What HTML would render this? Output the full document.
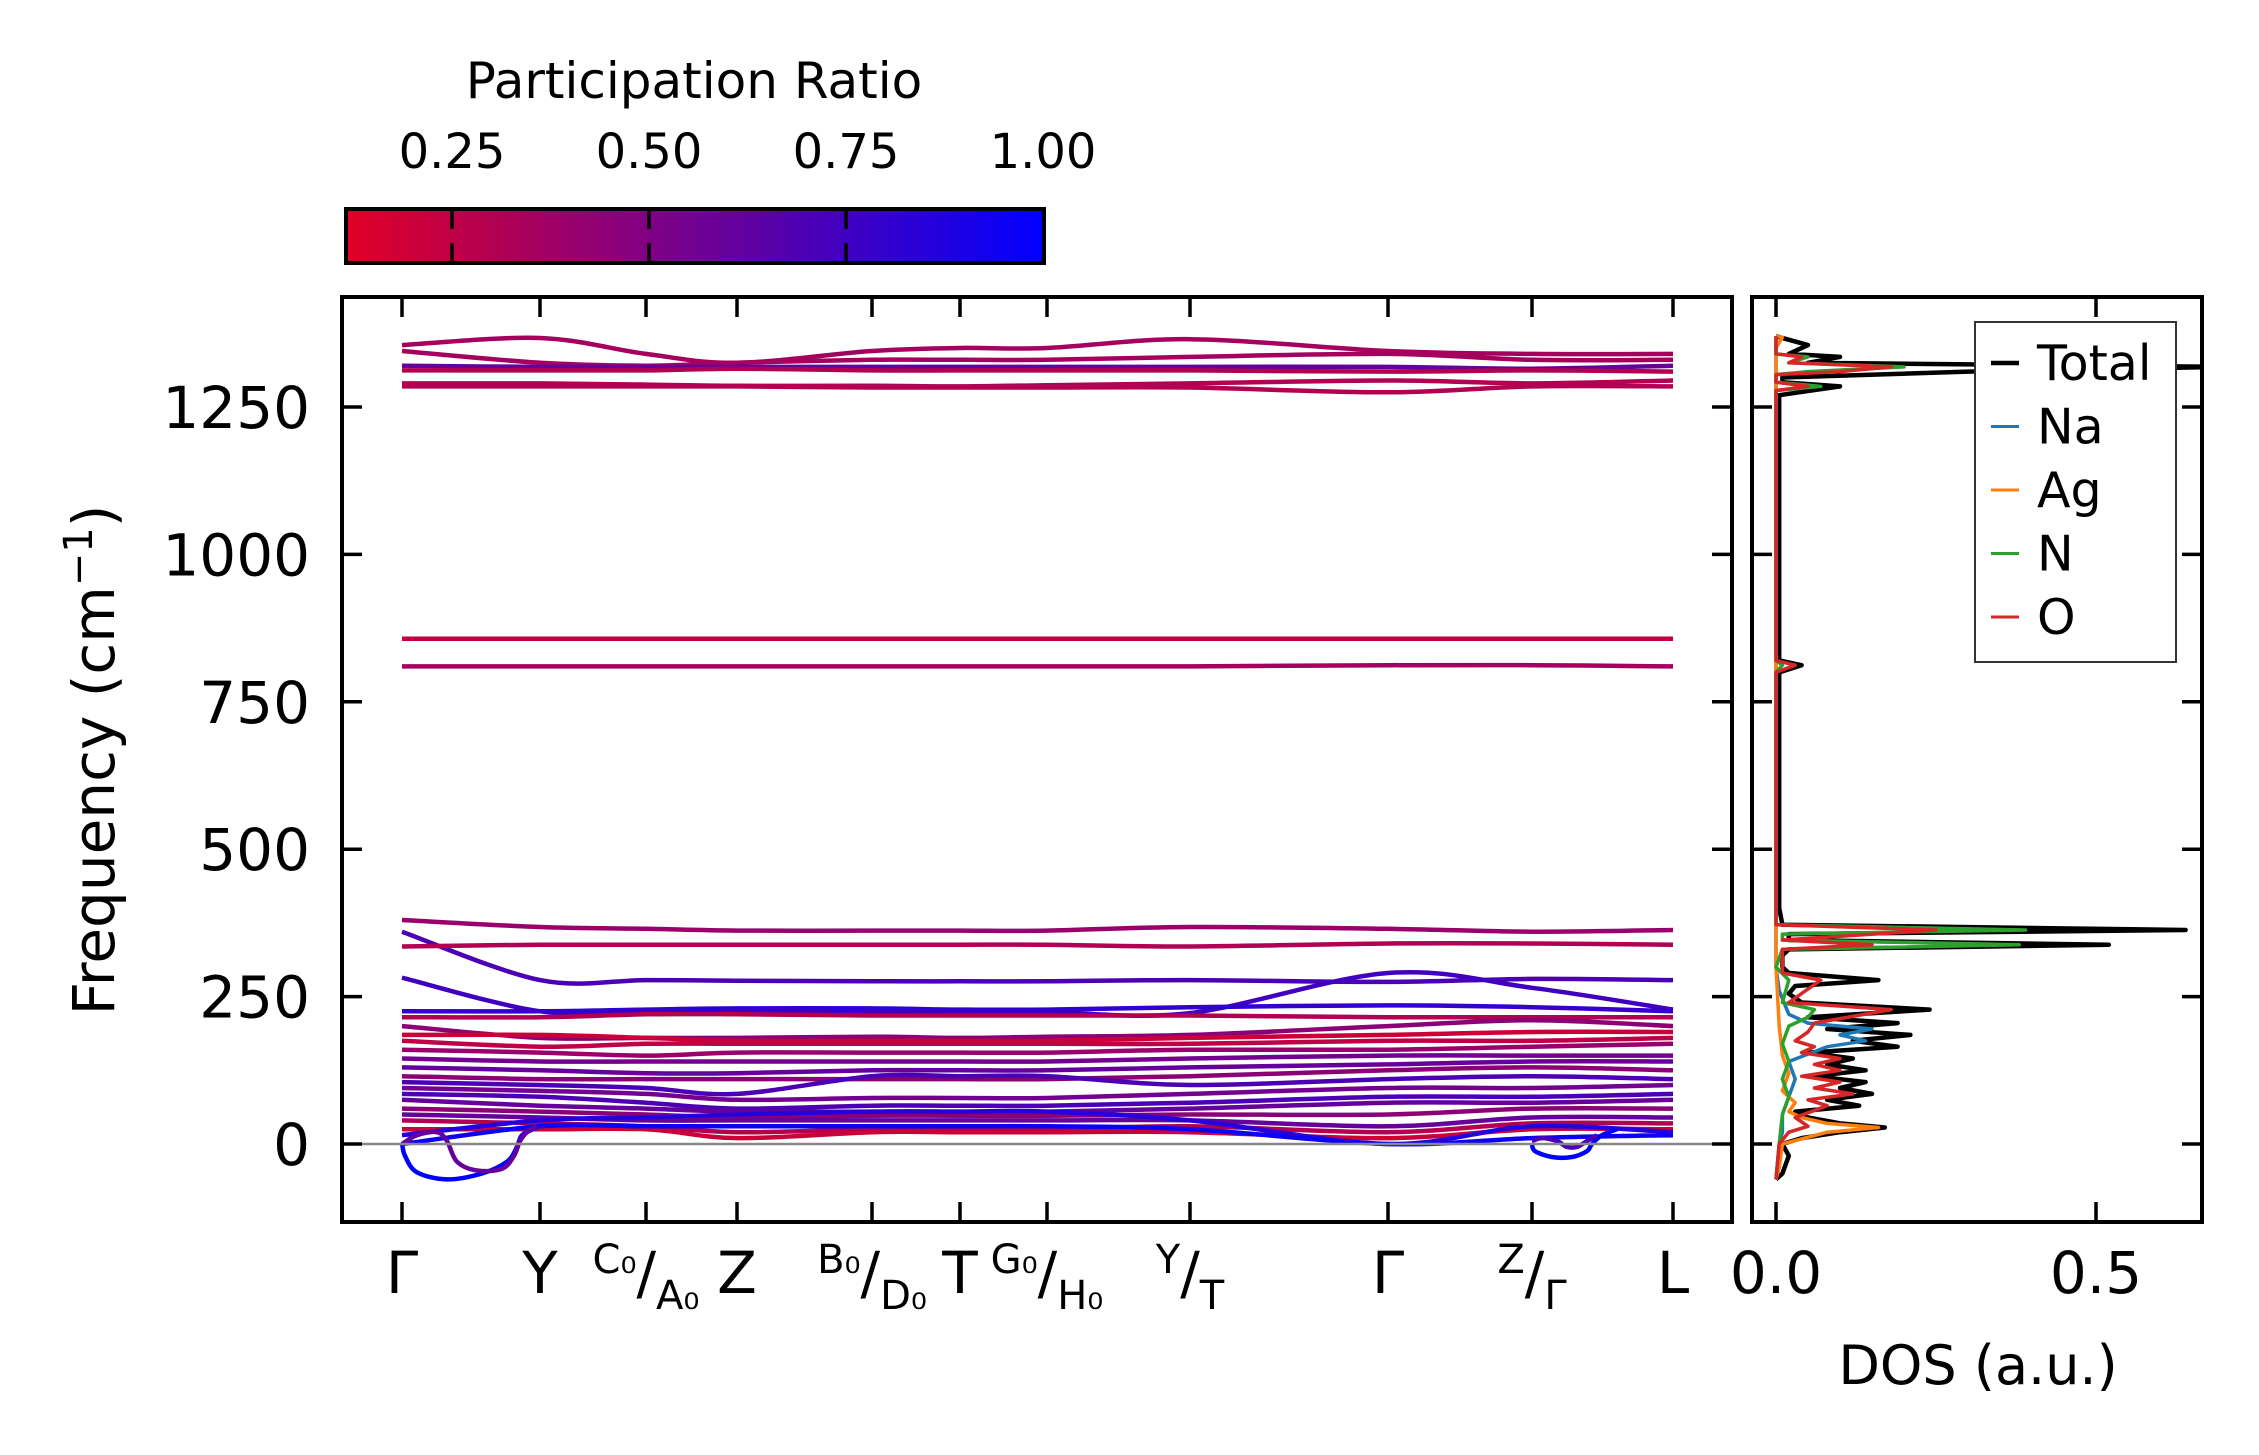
<!DOCTYPE html>
<html><head><meta charset="utf-8"><style>
html,body{margin:0;padding:0;background:#fff;}
svg{display:block;font-family:"DejaVu Sans","Liberation Sans",sans-serif;}
</style></head><body>
<svg id="fig" width="2259" height="1455" viewBox="0 0 2259 1455">
<defs>
<linearGradient id="cbgrad" x1="0" x2="1" y1="0" y2="0"></linearGradient>
<clipPath id="mainclip"><rect x="342" y="297" width="1390" height="925"/></clipPath>
<clipPath id="dosclip"><rect x="1752" y="297" width="450" height="925"/></clipPath>
</defs>
<g id="colorbar">
<text x="694" y="98" font-size="50" text-anchor="middle">Participation Ratio</text>
<rect x="346" y="209" width="698" height="54" fill="url(#cbgrad)" stroke="#000" stroke-width="4"/>
<g id="cbticks"></g>
</g>
<g id="main">
<g id="bands" clip-path="url(#mainclip)"></g>
<line x1="342" x2="1732" y1="1144" y2="1144" stroke="#888" stroke-width="2.5"/>
<g id="mainticks"></g>
<rect x="342" y="297" width="1390" height="925" fill="none" stroke="#000" stroke-width="4"/>
<text transform="translate(114,760) rotate(-90)" font-size="58" text-anchor="middle">Frequency (cm<tspan dy="-22" font-size="40">−1</tspan><tspan dy="22">)</tspan></text>
</g>
<g id="dos">
<g id="doslines" clip-path="url(#dosclip)"></g>
<g id="dosticks"></g>
<rect x="1752" y="297" width="450" height="925" fill="none" stroke="#000" stroke-width="4"/>
<text x="1978" y="1384" font-size="54" text-anchor="middle">DOS (a.u.)</text>
<g id="legend">
<rect x="1975" y="322" width="201" height="340" fill="#fff" stroke="#333" stroke-width="2"/>
</g>
</g>
</svg>
<script>
// ---- data ----
const kLabelNames = ["Γ","Y","C0/A0","Z","B0/D0","T","G0/H0","Y/T","Γ","Z/Γ","L"];
const kDist = [0,138,244,335,470,558,645,788,986,1130,1271];
const freqTicks = [0,250,500,750,1000,1250];
const cbTicks = [0.25,0.5,0.75,1.0];
const dosTicks = [0.0,0.5];
const bandRatios = [0.35,0.35,0.6,0.3,0.3,0.3,0.25,0.35,
 0.4,0.7,0.3,0.75,0.8,0.3,0.45,0.2,0.25,0.4,0.55,0.6,0.45,0.7,0.55,0.7,0.6,0.45,0.6,0.3,0.2,0.85,0.95];
const bands = [
 [1355,1367,1340,1325,1345,1350,1350,1365,1345,1340,1340],
 [1345,1325,1320,1325,1330,1330,1330,1335,1340,1330,1330],
 [1320,1318,1318,1318,1318,1318,1318,1318,1318,1315,1320],
 [1312,1312,1312,1315,1312,1312,1312,1312,1310,1312,1310],
 [1290,1290,1288,1286,1286,1285,1287,1290,1295,1290,1295],
 [1285,1285,1285,1285,1283,1283,1283,1283,1275,1285,1285],
 [857,857,857,857,857,857,857,857,857,857,857],
 [810,810,810,810,810,810,810,810,812,812,810],
 [380,368,365,362,362,362,362,368,365,360,363],
 [360,278,278,277,276,276,276,278,275,280,278],
 [335,338,338,338,338,338,338,335,340,340,338],
 [282,225,225,225,224,224,224,222,290,265,228],
 [225,225,228,230,230,228,228,232,235,232,225],
 [215,215,220,220,218,218,218,218,215,215,215],
 [200,180,180,180,182,180,182,185,200,210,200],
 [185,185,180,175,175,175,175,180,185,190,190],
 [175,165,170,170,170,170,170,170,175,175,180],
 [160,155,150,155,155,155,155,160,160,165,170],
 [145,140,140,140,140,140,140,145,150,150,150],
 [130,125,120,120,125,125,125,130,135,140,140],
 [115,110,110,110,110,110,110,115,125,130,125],
 [105,100,95,85,115,115,115,100,110,115,110],
 [95,90,85,75,78,78,78,85,95,95,100],
 [85,80,70,60,65,65,65,70,80,80,85],
 [75,65,60,55,55,55,55,60,70,70,75],
 [60,55,50,45,48,48,48,50,50,60,60],
 [50,45,40,40,40,40,40,40,30,45,45],
 [40,35,30,20,25,25,25,30,20,35,35],
 [25,25,25,10,20,20,20,20,10,25,25],
 [15,40,45,50,55,55,55,40,0,30,20],
 [0,30,30,30,30,30,30,25,0,10,15]
];
const loop1 = [[0,2],[3,-20],[15,-48],[45,-60],[80,-50],[105,-30],[115,-5],[120,15],[135,28]];
const loop2 = [[0,0],[15,15],[35,20],[45,5],[55,-30],[75,-45],[100,-42],[112,-20],[118,5],[125,20],[135,30]];
const loop3 = [[1130,0],[1133,-12],[1150,-22],[1170,-22],[1185,-12],[1190,0],[1200,15],[1215,25]];
const loop4 = [[1130,5],[1140,10],[1155,5],[1165,-5],[1175,-5],[1185,5],[1195,15]];
const loopRatios = [1.0,0.6,1.0,0.7];
const dosNames = ["Total","Na","Ag","N","O"];
const dosColors = ["#000000","#1f77b4","#ff7f0e","#2ca02c","#d62728"];
const dosTotal = [[-60,0],[-50,0.01],[-20,0.02],[0,0.01],[10,0.04],[20,0.1],[28,0.17],[35,0.1],[45,0.05],[55,0.03],[65,0.13],[75,0.08],[85,0.15],[95,0.1],[105,0.14],[115,0.06],[125,0.14],[135,0.08],[145,0.12],[155,0.05],[165,0.19],[175,0.12],[185,0.21],[195,0.08],[205,0.19],[215,0.05],[228,0.24],[240,0.04],[255,0.02],[268,0.03],[278,0.16],[290,0.02],[300,0.01],[320,0.01],[330,0.02],[338,0.52],[346,0.02],[356,0.02],[363,0.64],[372,0.01],[400,0.005],[800,0.005],[812,0.04],[820,0.005],[1270,0.005],[1285,0.1],[1292,0.01],[1300,0.01],[1310,0.3],[1318,0.7],[1325,0.05],[1335,0.1],[1340,0.02],[1355,0.05],[1370,0]];
const dosNa = [[-60,0],[0,0.005],[20,0.01],[50,0.01],[80,0.02],[110,0.03],[140,0.02],[165,0.08],[175,0.14],[185,0.1],[195,0.15],[205,0.05],[220,0.02],[260,0.005],[300,0],[1370,0]];
const dosAg = [[-60,0],[-40,0.005],[0,0.01],[20,0.08],[28,0.16],[35,0.08],[45,0.04],[55,0.02],[70,0.03],[90,0.01],[120,0.02],[150,0.01],[200,0.005],[300,0],[1350,0],[1368,0.01],[1370,0]];
const dosN = [[-60,0],[0,0.005],[50,0.01],[80,0.02],[110,0.01],[140,0.02],[170,0.01],[200,0.02],[215,0.05],[228,0.06],[240,0.01],[278,0.02],[300,0],[330,0.01],[338,0.38],[346,0.01],[356,0.01],[363,0.39],[372,0],[800,0],[812,0.01],[820,0],[1278,0],[1285,0.07],[1292,0],[1305,0],[1310,0.05],[1318,0.2],[1325,0.02],[1335,0.05],[1340,0],[1370,0]];
const dosO = [[-60,0],[0,0.005],[20,0.02],[30,0.05],[45,0.03],[65,0.08],[75,0.05],[85,0.12],[95,0.06],[105,0.1],[115,0.04],[125,0.1],[135,0.06],[145,0.1],[155,0.04],[165,0.06],[175,0.03],[190,0.05],[205,0.06],[228,0.18],[240,0.02],[278,0.07],[290,0.01],[330,0.01],[338,0.15],[346,0.01],[363,0.25],[372,0],[800,0],[812,0.03],[820,0],[1278,0],[1285,0.05],[1292,0],[1305,0],[1310,0.1],[1318,0.18],[1325,0.02],[1335,0.04],[1340,0],[1370,0]];
const dosSeries = [dosTotal,dosNa,dosAg,dosN,dosO];

// ---- scales ----
const NS="http://www.w3.org/2000/svg";
function yF(f){return 1144 - f*0.5896;}
function xK(d){return 402 + d*(1673-402)/1271;}
function xD(v){return 1776 + v*640;}
function xCB(r){return 255 + r*788;}
function cmap(t){const a=(t-0.113)/(1-0.113);const u=Math.max(0,Math.min(1,a));
 return `rgb(${Math.round(226*(1-u))},0,${Math.round(36+(255-36)*u)})`;}
function el(tag,attrs,parent){const e=document.createElementNS(NS,tag);for(const k in attrs)e.setAttribute(k,attrs[k]);parent.appendChild(e);return e;}
function smooth(pts){let d=`M${pts[0][0].toFixed(1)},${pts[0][1].toFixed(1)}`;
 for(let i=0;i<pts.length-1;i++){const p0=pts[Math.max(0,i-1)],p1=pts[i],p2=pts[i+1],p3=pts[Math.min(pts.length-1,i+2)];
  const c1=[p1[0]+(p2[0]-p0[0])/6,p1[1]+(p2[1]-p0[1])/6],c2=[p2[0]-(p3[0]-p1[0])/6,p2[1]-(p3[1]-p1[1])/6];
  d+=`C${c1[0].toFixed(1)},${c1[1].toFixed(1)} ${c2[0].toFixed(1)},${c2[1].toFixed(1)} ${p2[0].toFixed(1)},${p2[1].toFixed(1)}`;}
 return d;}

// colorbar gradient
const grad=document.getElementById('cbgrad');
for(let i=0;i<=10;i++){const t=0.113+(1-0.113)*i/10;el('stop',{offset:(i*10)+'%','stop-color':cmap(t)},grad);}
const cbt=document.getElementById('cbticks');
cbTicks.forEach((v,i)=>{const x=xCB(v);
 if(v<1){const a=el('line',{x1:x,x2:x,y1:209,y2:229,stroke:'#000','stroke-width':3.5},cbt);
 
 
 const b=el('line',{x1:x,x2:x,y1:243,y2:263,stroke:'#000','stroke-width':3.5},cbt);
 
 }
 const t=el('text',{x:x,y:168,'font-size':48,'text-anchor':'middle'},cbt);t.textContent=v.toFixed(2);
 
 
});

// bands
const bg=document.getElementById('bands');
bands.forEach((b,i)=>{const pts=b.map((f,j)=>[xK(kDist[j]),yF(f)]);
 const p=el('path',{d:smooth(pts),fill:'none',stroke:cmap(bandRatios[i]),'stroke-width':4.5,'stroke-linejoin':'round'},bg);
 
 });
[loop1,loop2,loop3,loop4].forEach((l,i)=>{const pts=l.map(q=>[xK(q[0]),yF(q[1])]);
 const p=el('path',{d:smooth(pts),fill:'none',stroke:cmap(loopRatios[i]),'stroke-width':4.5},bg);
 
 });

// main ticks
const mt=document.getElementById('mainticks');
freqTicks.forEach(f=>{const y=yF(f);
 const a=el('line',{x1:342,x2:362,y1:y,y2:y,stroke:'#000','stroke-width':3.5},mt);
 
 
 const b=el('line',{x1:1712,x2:1732,y1:y,y2:y,stroke:'#000','stroke-width':3.5},mt);
 
 
 const t=el('text',{x:310,y:y+21,'font-size':58,'text-anchor':'end'},mt);t.textContent=String(f);
 
 
});
kDist.forEach((d,i)=>{const x=xK(d);
 const a=el('line',{x1:x,x2:x,y1:297,y2:317,stroke:'#000','stroke-width':3.5},mt);
 
 
 const b=el('line',{x1:x,x2:x,y1:1202,y2:1222,stroke:'#000','stroke-width':3.5},mt);
 
 
 const name=kLabelNames[i];
 const t=el('text',{x:x,y:1293,'font-size':58,'text-anchor':'middle'},mt);
 
 
 if(name.indexOf('/')<0){t.textContent=name;}
 else{const parts=name.split('/');
  const fmt=s=>s.replace('0','₀');
  const s1=el('tspan',{'font-size':40,dy:-20},t);s1.textContent=fmt(parts[0]);
  const s2=el('tspan',{dy:20},t);s2.textContent='/';
  const s3=el('tspan',{'font-size':40,dy:16},t);s3.textContent=fmt(parts[1]);}
});

// DOS
const dl=document.getElementById('doslines');
const order=[0,1,2,3,4];
order.forEach(i=>{const pts=dosSeries[i].map(q=>`${xD(q[1]).toFixed(1)},${yF(q[0]).toFixed(1)}`).join(' ');
 const p=el('polyline',{points:pts,fill:'none',stroke:dosColors[i],'stroke-width':i==0?4.5:3.5,'stroke-linejoin':'round'},dl);
 
 });
const dt=document.getElementById('dosticks');
freqTicks.forEach(f=>{const y=yF(f);
 const a=el('line',{x1:1752,x2:1772,y1:y,y2:y,stroke:'#000','stroke-width':3.5},dt);
 
 
 const b=el('line',{x1:2182,x2:2202,y1:y,y2:y,stroke:'#000','stroke-width':3.5},dt);
 
 });
dosTicks.forEach(v=>{const x=xD(v);
 const a=el('line',{x1:x,x2:x,y1:297,y2:317,stroke:'#000','stroke-width':3.5},dt);
 
 
 const b=el('line',{x1:x,x2:x,y1:1202,y2:1222,stroke:'#000','stroke-width':3.5},dt);
 
 
 const t=el('text',{x:x,y:1293,'font-size':58,'text-anchor':'middle'},dt);t.textContent=v.toFixed(1);
 
 });
const lg=document.getElementById('legend');
dosNames.forEach((n,i)=>{const y=363+i*63.5;
 const l=el('line',{x1:1991,x2:2019,y1:y,y2:y,stroke:dosColors[i],'stroke-width':i==0?4.5:3},lg);
 
 
 const t=el('text',{x:2037,y:y+17,'font-size':49},lg);t.textContent=n;
 
 });
</script>
</body></html>
